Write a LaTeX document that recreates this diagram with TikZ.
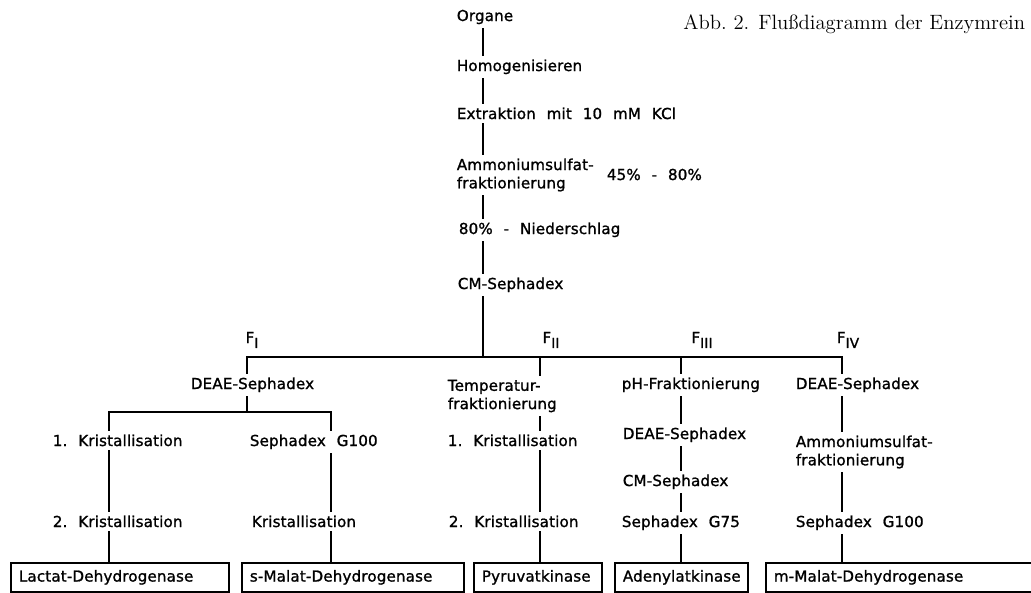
\documentclass[tikz,border=0pt]{standalone}
\usepackage{fontspec}
\usetikzlibrary{positioning}
\newfontfamily\dinfont[LetterSpace=1,WordSpace=2.2,FakeBold=1.2]{DejaVu Sans}
\newcommand{\fnr}[1]{F\raisebox{-0.6ex}{\fontsize{7.8}{7.8}\selectfont #1}}

\tikzset{
  stepnode/.style={anchor=base west, inner sep=2pt,
                   font=\dinfont\fontsize{8.6}{10.2}\selectfont},
  twoline/.style={anchor=west, align=left, inner sep=2pt,
                  font=\dinfont\fontsize{8.6}{10.4}\selectfont},
  fraclabel/.style={anchor=base, inner sep=1pt,
                    font=\dinfont\fontsize{8.6}{10.2}\selectfont},
  enzbox/.style={draw, line width=1pt, anchor=north west,
                 minimum height=0.58cm, inner xsep=0.16cm, align=left,
                 font=\dinfont\fontsize{8.6}{10.2}\selectfont},
  flow/.style={line width=1pt}
}

\begin{document}
\begin{tikzpicture}[x=0.02cm, y=-0.02cm]
  \useasboundingbox (0,0) rectangle (1031,592);
  \clip (0,0) rectangle (1031,592);
%    \draw[help lines] (0,0) grid (1031,592);

  % x positions of the flow lines
  \coordinate (xmain) at (483,0);
  \coordinate (xI)    at (247,0);
  \coordinate (xIa)   at (109,0);
  \coordinate (xIb)   at (331,0);
  \coordinate (xII)   at (540,0);
  \coordinate (xIII)  at (681,0);
  \coordinate (xIV)   at (842,0);
  \coordinate (bar)   at (0,357);
  \coordinate (barI)  at (0,412);

  \node[anchor=base west, inner sep=0pt, font=\fontsize{11.8}{14}\selectfont]
        (caption) at (683,29) {Abb.\ 2. Flußdiagramm der Enzymrein};

  % main stem
  \node[stepnode] (organe)  at (453,21)  {Organe};
  \node[stepnode] (homog)   at (453,71)  {Homogenisieren};
  \node[stepnode] (extrakt) at (453,119) {Extraktion mit 10 mM KCl};
  \node[twoline]  (ammon)   at (453,175) {Ammoniumsulfat-\\fraktionierung};
  \node[stepnode] (proz)    at (603,180) {45\% - 80\%};
  \node[stepnode] (nieder)  at (455,234) {80\% - Niederschlag};
  \node[stepnode] (cmseph)  at (454,289) {CM-Sephadex};

  % fractions
  \node[fraclabel] (lblI)   at (252,343) {\fnr{I}};
  \node[fraclabel] (lblII)  at (551,343) {\fnr{II}};
  \node[fraclabel] (lblIII) at (702,343) {\fnr{III}};
  \node[fraclabel] (lblIV)  at (848,343) {\fnr{IV}};

  \node[stepnode] (deaeI)   at (187,389) {DEAE-Sephadex};
  \node[twoline]  (temp)    at (444,396) {Temperatur-\\fraktionierung};
  \node[stepnode] (phfrak)  at (618,389) {pH-Fraktionierung};
  \node[stepnode] (deaeIV)  at (792,389) {DEAE-Sephadex};

  \node[stepnode] (kristIa)  at (49,446)  {1.\ Kristallisation};
  \node[stepnode] (sephG)    at (246,446) {Sephadex G100};
  \node[stepnode] (kristIIa) at (444,446) {1.\ Kristallisation};
  \node[stepnode] (deaeIII)  at (619,439) {DEAE-Sephadex};
  \node[stepnode] (cmIII)    at (619,486) {CM-Sephadex};
  \node[twoline]  (ammonIV)  at (792,452) {Ammoniumsulfat-\\fraktionierung};

  \node[stepnode] (kristIb)  at (49,527)  {2.\ Kristallisation};
  \node[stepnode] (kristall) at (248,527) {Kristallisation};
  \node[stepnode] (kristIIb) at (445,527) {2.\ Kristallisation};
  \node[stepnode] (sephGfs)  at (618,527) {Sephadex G75};
  \node[stepnode] (sephGhun) at (792,527) {Sephadex G100};

  % enzymes
  \node[enzbox, text width=4.04cm] (ldh)  at (10,562)  {Lactat-Dehydrogenase};
  \node[enzbox, text width=4.12cm] (smdh) at (241,562) {s-Malat-Dehydrogenase};
  \node[enzbox, text width=2.24cm] (pk)   at (473,562) {Pyruvatkinase};
  \node[enzbox, text width=2.34cm] (ak)   at (614,562) {Adenylatkinase};
  \node[enzbox, text width=5.18cm] (mmdh) at (765,562) {m-Malat-Dehydrogenase};

  % connectors
  \draw[flow] (organe.south -| xmain) -- (homog.north -| xmain);
  \draw[flow] (homog.south -| xmain) -- (extrakt.north -| xmain);
  \draw[flow] (extrakt.south -| xmain) -- (ammon.north -| xmain);
  \draw[flow] (ammon.south -| xmain) -- (nieder.north -| xmain);
  \draw[flow] (nieder.south -| xmain) -- (cmseph.north -| xmain);
  \draw[flow] (cmseph.south -| xmain) -- (xmain |- bar);
  \draw[flow] (deaeI.north -| xI) -- (xI |- bar) -- (xIV |- bar)
              -- (deaeIV.north -| xIV);
  \draw[flow] (xII |- bar) -- (temp.north -| xII);
  \draw[flow] (xIII |- bar) -- (phfrak.north -| xIII);

  % F I
  \draw[flow] (deaeI.south -| xI) -- (xI |- barI);
  \draw[flow] (kristIa.north -| xIa) -- (xIa |- barI) -- (xIb |- barI)
              -- (sephG.north -| xIb);
  \draw[flow] (kristIa.south -| xIa) -- (kristIb.north -| xIa);
  \draw[flow] (kristIb.south -| xIa) -- (ldh.north -| xIa);
  \draw[flow] (sephG.south -| xIb) -- (kristall.north -| xIb);
  \draw[flow] (kristall.south -| xIb) -- (smdh.north -| xIb);

  % F II
  \draw[flow] (temp.south -| xII) -- (kristIIa.north -| xII);
  \draw[flow] (kristIIa.south -| xII) -- (kristIIb.north -| xII);
  \draw[flow] (kristIIb.south -| xII) -- (pk.north -| xII);

  % F III
  \draw[flow] (phfrak.south -| xIII) -- (deaeIII.north -| xIII);
  \draw[flow] (deaeIII.south -| xIII) -- (cmIII.north -| xIII);
  \draw[flow] (cmIII.south -| xIII) -- (sephGfs.north -| xIII);
  \draw[flow] (sephGfs.south -| xIII) -- (ak.north -| xIII);

  % F IV
  \draw[flow] (deaeIV.south -| xIV) -- (ammonIV.north -| xIV);
  \draw[flow] (ammonIV.south -| xIV) -- (sephGhun.north -| xIV);
  \draw[flow] (sephGhun.south -| xIV) -- (mmdh.north -| xIV);
\end{tikzpicture}
\end{document}
